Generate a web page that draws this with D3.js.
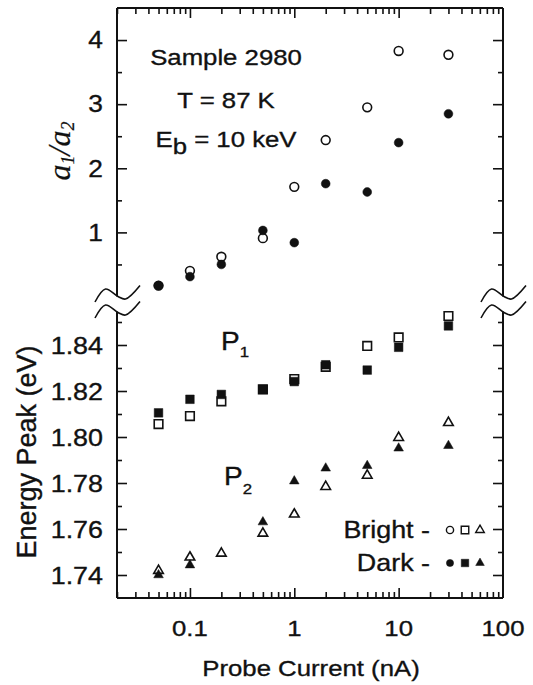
<!DOCTYPE html>
<html>
<head>
<meta charset="utf-8">
<script src="https://cdn.jsdelivr.net/npm/d3@7"></script>
<style>
  html, body { margin: 0; padding: 0; background: #fff; }
  svg { display: block; }
</style>
</head>
<body>
<svg id="chart" width="533" height="685"></svg>
<script>
// Probe current (nA) for every measurement
const current = [0.05, 0.1, 0.2, 0.5, 1, 2, 5, 10, 30];

// Intensity ratio a1/a2 (upper panel)
const ratioBright = [0.17, 0.40, 0.62, 0.91, 1.71, 2.44, 2.95, 3.83, 3.77];
const ratioDark   = [0.17, 0.31, 0.50, 1.03, 0.84, 1.76, 1.63, 2.40, 2.85];

// Peak energies (eV) of P1 and P2 (lower panel)
const p1Bright = [1.8056, 1.8091, 1.8155, 1.8207, 1.8252, 1.8305, 1.8396, 1.8433, 1.8526];
const p1Dark   = [1.8105, 1.8164, 1.8185, 1.8207, 1.8241, 1.8314, 1.8291, 1.8390, 1.8483];
const p2Bright = [1.7419, 1.7477, 1.7494, 1.7581, 1.7664, 1.7784, 1.7833, 1.7997, 1.8062];
const p2Dark   = [1.7400, 1.7443, null,   1.7630, 1.7808, 1.7864, 1.7875, 1.7951, 1.7962];

// Tick values and labels
const xMajor = [0.1, 1, 10, 100];
const xTickLabels = ["0.1", "1", "10", "100"];
const ratioMajor = [1, 2, 3, 4];
const ratioMinor = [0.5, 1.5, 2.5, 3.5];
const energyMajor = [1.74, 1.76, 1.78, 1.80, 1.82, 1.84];
const energyMinor = [1.75, 1.77, 1.79, 1.81, 1.83, 1.85];
const energyTickLabels = ["1.74", "1.76", "1.78", "1.80", "1.82", "1.84"];

const svg = d3.select("#chart");
const SANS = "'Liberation Sans', Arial, Helvetica, sans-serif";
const SERIF = "'Liberation Serif', 'Times New Roman', serif";
const SX = 1.12; // horizontal glyph stretch of the lettering
const INK = "#111";

const L = 117, R = 503, T = 8, B = 598;
const upperEnd = 296.5, lowerStart = 311.5;

const x = d3.scaleLog().domain([0.02, 100]).range([L, R]);
const yR = d3.scaleLinear().domain([0, 4.5]).range([296.5, T]);
const yE = d3.scaleLinear().domain([1.73, 1.85]).range([B, 322]);

// Text placed at (px, py); horizontal lettering is stretched slightly
function label(px, py, anchor, size, family, rotate) {
  const tr = rotate
    ? `translate(${px},${py}) rotate(-90)`
    : `translate(${px},${py}) scale(${SX},1)`;
  return svg.append("g").attr("transform", tr)
    .append("text")
    .attr("text-anchor", anchor)
    .attr("fill", INK)
    .attr("stroke", INK)
    .attr("stroke-width", 0.35)
    .style("font-size", size + "px")
    .style("font-family", family || SANS);
}

// ---- frame ----
const frame = svg.append("g").attr("stroke", INK).attr("stroke-width", 2).attr("fill", "none");
frame.append("line").attr("x1", L).attr("x2", R).attr("y1", T).attr("y2", T);
frame.append("line").attr("x1", L).attr("x2", R).attr("y1", B).attr("y2", B);
[L, R].forEach(xx => {
  frame.append("line").attr("x1", xx).attr("x2", xx).attr("y1", T).attr("y2", upperEnd);
  frame.append("line").attr("x1", xx).attr("x2", xx).attr("y1", lowerStart).attr("y2", B);
});

// ---- axis break marks ----
const wave = d3.line().curve(d3.curveCatmullRom.alpha(0.5));
const waveShape = [[-22, 5.5], [-11.5, -7.5], [1, 0], [8.5, 2.5], [23, -11]];
[L, R].forEach(xx => {
  [upperEnd, lowerStart + 1].forEach(cy => {
    svg.append("path")
      .attr("d", wave(waveShape.map(([dx, dy]) => [xx + dx, cy + dy])))
      .attr("fill", "none").attr("stroke", INK).attr("stroke-width", 1.6);
  });
});

// ---- ticks ----
function tickGroup(axis, tx, ty) {
  const g = svg.append("g").attr("transform", `translate(${tx},${ty})`).call(axis);
  g.select(".domain").remove();
  g.selectAll("text").remove();
  g.selectAll("line").attr("stroke", INK).attr("stroke-width", 1.6);
  return g;
}
const xMinor = x.ticks().filter(v => !xMajor.some(m => Math.abs(m - v) < 1e-9));
tickGroup(d3.axisTop(x).tickValues(xMajor.slice(0, 3)).tickSize(-10).tickFormat(""), 0, T);
tickGroup(d3.axisTop(x).tickValues(xMinor).tickSize(-6).tickFormat(""), 0, T);
tickGroup(d3.axisBottom(x).tickValues(xMajor.slice(0, 3)).tickSize(-10).tickFormat(""), 0, B);
tickGroup(d3.axisBottom(x).tickValues(xMinor).tickSize(-6).tickFormat(""), 0, B);

tickGroup(d3.axisLeft(yR).tickValues(ratioMajor).tickSize(-10).tickFormat(""), L, 0);
tickGroup(d3.axisLeft(yR).tickValues(ratioMinor).tickSize(-5).tickFormat(""), L, 0);
tickGroup(d3.axisRight(yR).tickValues(ratioMajor).tickSize(-10).tickFormat(""), R, 0);
tickGroup(d3.axisRight(yR).tickValues(ratioMinor).tickSize(-5).tickFormat(""), R, 0);

tickGroup(d3.axisLeft(yE).tickValues(energyMajor).tickSize(-10).tickFormat(""), L, 0);
tickGroup(d3.axisLeft(yE).tickValues(energyMinor).tickSize(-5).tickFormat(""), L, 0);
tickGroup(d3.axisRight(yE).tickValues(energyMajor).tickSize(-10).tickFormat(""), R, 0);
tickGroup(d3.axisRight(yE).tickValues(energyMinor).tickSize(-5).tickFormat(""), R, 0);

// ---- tick labels ----
xMajor.forEach((v, i) => label(x(v), 636, "middle", 23).text(xTickLabels[i]));
ratioMajor.forEach(v => label(103, yR(v) + 8.3, "end", 23.5).text(String(v)));
energyMajor.forEach((v, i) => label(103, yE(v) + 8.5, "end", 24).text(energyTickLabels[i]));

// ---- axis titles ----
label(311, 676, "middle", 23).text("Probe Current (nA)");
label(36, 452, "middle", 27, SANS, true).text("Energy Peak (eV)");
const ratioTitle = label(70, 151, "middle", 32, SERIF, true)
  .style("font-style", "italic").attr("stroke-width", 0.2);
ratioTitle.append("tspan").text("a");
ratioTitle.append("tspan").attr("dy", 4).style("font-size", "18px").text("1");
ratioTitle.append("tspan").attr("dy", -4).text("/a");
ratioTitle.append("tspan").attr("dy", 4).style("font-size", "18px").text("2");

// ---- annotations ----
label(226, 65, "middle", 23).text("Sample 2980");
label(226, 108, "middle", 23).text("T = 87 K");
const eb = label(226, 147, "middle", 23);
eb.append("tspan").text("E");
eb.append("tspan").attr("dy", 7).text("b");
eb.append("tspan").attr("dy", -7).text(" = 10 keV");

const p1 = label(221, 350, "start", 25);
p1.append("tspan").text("P");
p1.append("tspan").attr("dy", 7).style("font-size", "15px").text("1");
const p2 = label(224, 485, "start", 25);
p2.append("tspan").text("P");
p2.append("tspan").attr("dy", 9).style("font-size", "15px").text("2");

// ---- markers ----
const symCircle = d3.symbol().type(d3.symbolCircle).size(Math.PI * 4.4 * 4.4);
const symSquare = d3.symbol().type(d3.symbolSquare).size(8.6 * 8.6);
const symTriangle = d3.symbol().type(d3.symbolTriangle).size(40);

function drawSeries(values, yScale, sym, filled) {
  svg.append("g").selectAll("path")
    .data(current.map((c, i) => [c, values[i]]).filter(d => d[1] != null))
    .join("path")
    .attr("d", sym)
    .attr("transform", d => `translate(${x(d[0])},${yScale(d[1])})`)
    .attr("fill", filled ? INK : "#fff")
    .attr("stroke", INK)
    .attr("stroke-width", filled ? 0.5 : 1.6);
}
drawSeries(ratioBright, yR, symCircle, false);
drawSeries(p1Bright, yE, symSquare, false);
drawSeries(p2Bright, yE, symTriangle, false);
drawSeries(ratioDark, yR, symCircle, true);
drawSeries(p1Dark, yE, symSquare, true);
drawSeries(p2Dark, yE, symTriangle, true);

// ---- legend ----
label(430, 538, "end", 24).text("Bright -");
label(430, 571, "end", 24).text("Dark -");
const legSyms = [
  d3.symbol().type(d3.symbolCircle).size(Math.PI * 3.6 * 3.6),
  d3.symbol().type(d3.symbolSquare).size(7.5 * 7.5),
  d3.symbol().type(d3.symbolTriangle).size(32)
];
const legX = [450, 465, 480];
legSyms.forEach((s, i) => {
  svg.append("path").attr("d", s).attr("transform", `translate(${legX[i]},530)`)
    .attr("fill", "#fff").attr("stroke", INK).attr("stroke-width", 1.4);
  svg.append("path").attr("d", s).attr("transform", `translate(${legX[i]},563)`)
    .attr("fill", INK).attr("stroke", INK).attr("stroke-width", 0.5);
});
</script>
</body>
</html>
